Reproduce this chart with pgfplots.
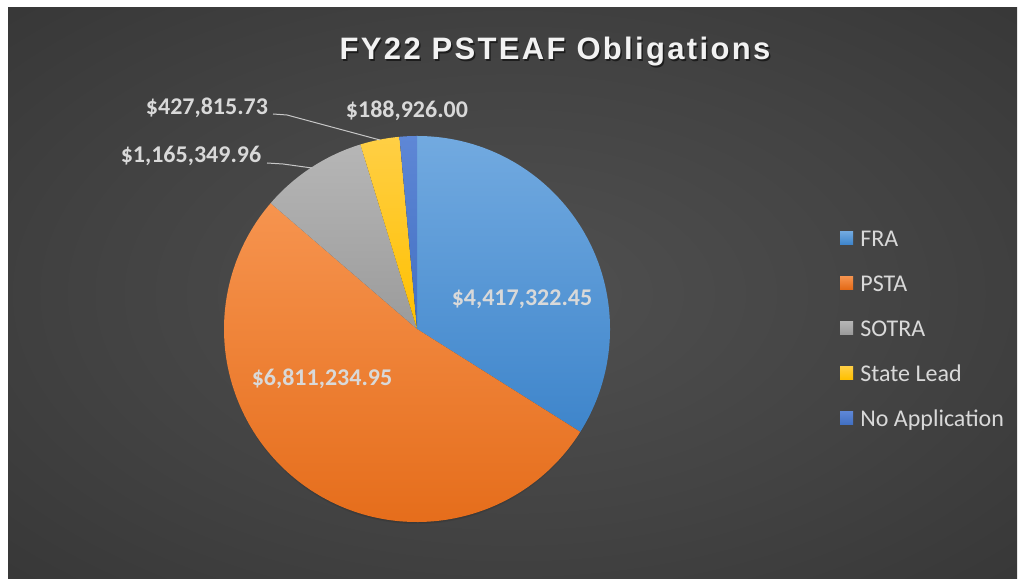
\documentclass[border=0pt]{standalone}
\usepackage{pgfplots}
\pgfplotsset{compat=1.18}
\usepackage{fontspec}
\setmainfont{Carlito}
\newfontfamily\titlefont[LetterSpace=7.5]{Liberation Sans}
\definecolor{bgA}{HTML}{505050}
\definecolor{bgB}{HTML}{434343}
\definecolor{bgC}{HTML}{2D2D2D}
\definecolor{bgD}{HTML}{242424}
\definecolor{fraT}{HTML}{72AAE0}
\definecolor{fraB}{HTML}{3E85CB}
\definecolor{pstaT}{HTML}{F6944F}
\definecolor{pstaB}{HTML}{E46A17}
\definecolor{sotraT}{HTML}{B6B6B6}
\definecolor{sotraB}{HTML}{9B9B9B}
\definecolor{slT}{HTML}{FFCF45}
\definecolor{slB}{HTML}{FFC000}
\definecolor{naT}{HTML}{5E87D6}
\definecolor{naB}{HTML}{4270C2}
\definecolor{lbl}{HTML}{D9D9D9}
\definecolor{ttl}{HTML}{F2F2F2}
\pgfdeclareradialshading{bgshade}{\pgfpoint{0bp}{0bp}}{color(0bp)=(bgA); color(20bp)=(bgB); color(50bp)=(bgC); color(72bp)=(bgD)}
% data
\def\vFRA{4417322.45}
\def\vPSTA{6811234.95}
\def\vSOTRA{1165349.96}
\def\vSL{427815.73}
\def\vNA{188926.00}
\edef\tot{\fpeval{\vFRA+\vPSTA+\vSOTRA+\vSL+\vNA}}
\def\aA{90}
\edef\aB{\fpeval{round(\aA-360*\vFRA/\tot,4)}}
\edef\aC{\fpeval{round(\aB-360*\vPSTA/\tot,4)}}
\edef\aD{\fpeval{round(\aC-360*\vSOTRA/\tot,4)}}
\edef\aE{\fpeval{round(\aD-360*\vSL/\tot,4)}}
\edef\aF{\fpeval{round(\aE-360*\vNA/\tot,4)}}
\def\R{193bp}
\begin{document}
\begin{tikzpicture}[x=1bp,y=1bp]
\fill[white] (0,0) rectangle (1018,579);
\shade[shading=bgshade] (8,0) rectangle (1017,571);
\begin{axis}[at={(417bp,250bp)}, anchor=center, width=386bp, height=386bp,
  scale only axis, hide axis, clip=false,
  xmin=-1, xmax=1, ymin=-1, ymax=1,
  legend style={at={(1.588,0.497)}, anchor=west, draw=none, fill=none,
    font=\fontsize{24bp}{28bp}\selectfont, text=lbl, row sep=23bp,
    nodes={inner sep=0pt, text height=17bp, text depth=5bp}},
  legend cell align=left,
  legend image code/.code={\shade[#1, draw=none] (0bp,-4bp) rectangle (13bp,9bp); \path (20bp,0bp);}]
% shadow
\pgfplotsinvokeforeach{1,2,3,4,5,6,7}{
  \fill[black, opacity=0.07, yshift=-3bp] (axis cs:0,0) circle[radius=185bp+#1bp];
}
\shade[top color=fraT, bottom color=fraB] (axis cs:0,0) -- ++(\aA:\R) arc[start angle=\aA, end angle=\aB, radius=\R] -- cycle;
\shade[top color=pstaT, bottom color=pstaB] (axis cs:0,0) -- ++(\aB:\R) arc[start angle=\aB, end angle=\aC, radius=\R] -- cycle;
\shade[top color=sotraT, bottom color=sotraB] (axis cs:0,0) -- ++(\aC:\R) arc[start angle=\aC, end angle=\aD, radius=\R] -- cycle;
\shade[top color=slT, bottom color=slB] (axis cs:0,0) -- ++(\aD:\R) arc[start angle=\aD, end angle=\aE, radius=\R] -- cycle;
\shade[top color=naT, bottom color=naB] (axis cs:0,0) -- ++(\aE:\R) arc[start angle=\aE, end angle=\aF, radius=\R] -- cycle;
\addlegendimage{top color=fraT, bottom color=fraB}
\addlegendentry{FRA}
\addlegendimage{top color=pstaT, bottom color=pstaB}
\addlegendentry{PSTA}
\addlegendimage{top color=sotraT, bottom color=sotraB}
\addlegendentry{SOTRA}
\addlegendimage{top color=slT, bottom color=slB}
\addlegendentry{State Lead}
\addlegendimage{top color=naT, bottom color=naB}
\addlegendentry{No Application}
\end{axis}
% title
\node[anchor=base, text=black, opacity=0.55, font=\titlefont\bfseries\fontsize{31bp}{36bp}\selectfont] at (556.5,517.5) {FY22 PSTEAF Obligations};
\node[anchor=base, text=ttl, font=\titlefont\bfseries\fontsize{31bp}{36bp}\selectfont] at (555,519) {FY22 PSTEAF Obligations};
% leader lines
\draw[color=lbl!80!gray, line width=1bp] (267,416) -- (283,415) -- (312,411);
\draw[color=lbl!80!gray, line width=1bp] (273,465) -- (287,464) -- (380,439);
% data labels
\begin{scope}[every node/.style={anchor=base, text=lbl, inner sep=0pt, font=\bfseries\fontsize{24bp}{28bp}\selectfont}]
\node at (522,273) {\$4,417,322.45};
\node at (322,193) {\$6,811,234.95};
\node at (191,416) {\$1,165,349.96};
\node at (207,464) {\$427,815.73};
\node at (407,461) {\$188,926.00};
\end{scope}
\end{tikzpicture}
\end{document}
